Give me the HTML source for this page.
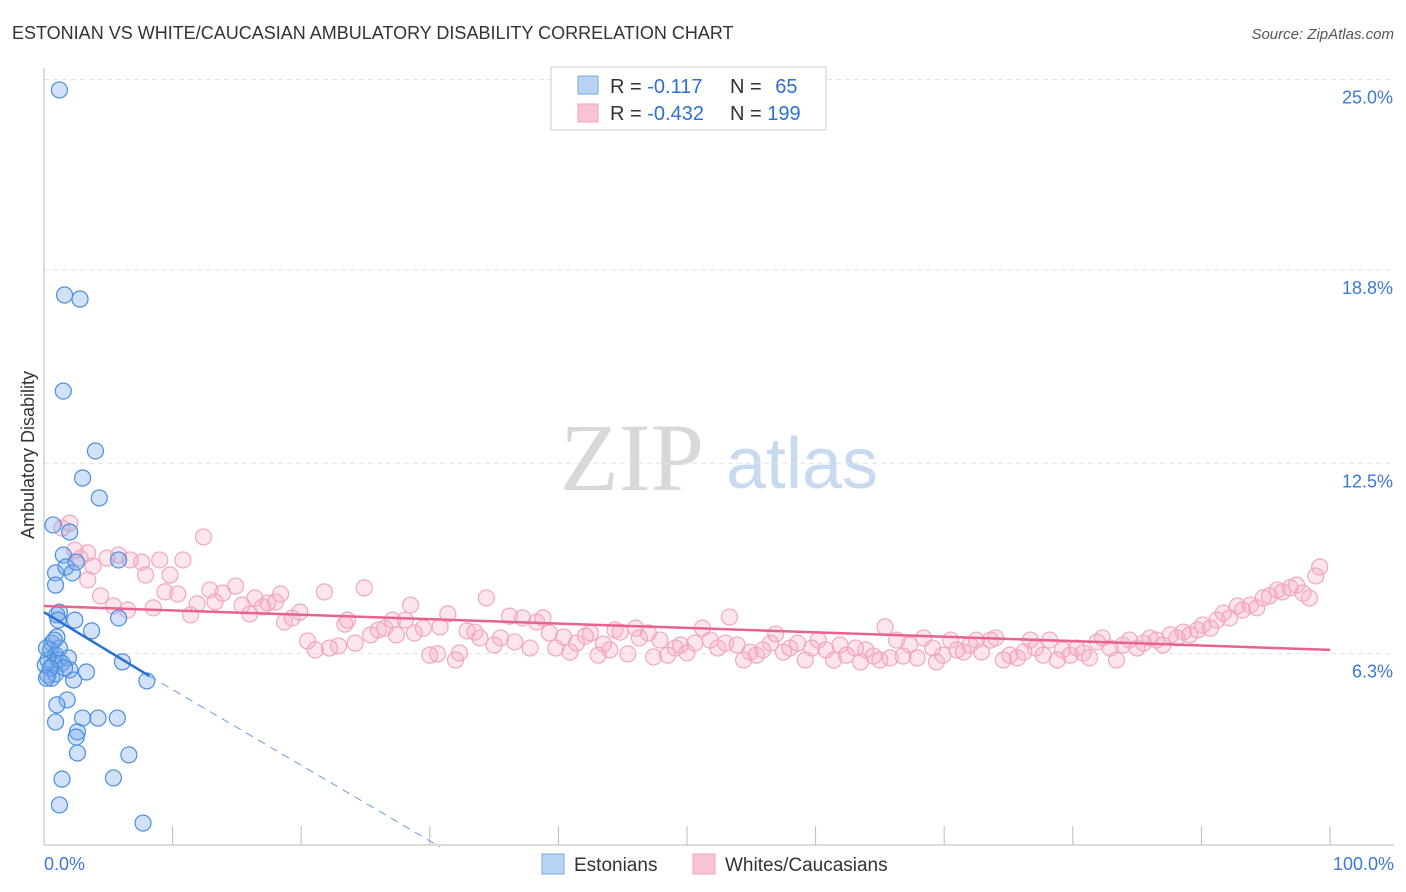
<!DOCTYPE html>
<html><head><meta charset="utf-8"><style>
body{margin:0;background:#fff;font-family:"Liberation Sans",sans-serif;}
svg{display:block}
</style></head><body>
<svg id="chart" width="1406" height="892" xmlns="http://www.w3.org/2000/svg">
<text x="12" y="39" font-size="18" fill="#333">ESTONIAN VS WHITE/CAUCASIAN AMBULATORY DISABILITY CORRELATION CHART</text>
<text x="1394" y="39" font-size="15" fill="#555" font-style="italic" text-anchor="end">Source: ZipAtlas.com</text>
<g>
<text x="632" y="490" font-size="96" fill="#d8d8d8" font-family="Liberation Serif,serif" text-anchor="middle">ZIP</text>
<text x="802" y="488" font-size="72" fill="#c8daf0" text-anchor="middle">atlas</text>
</g>
<g id="grid"></g>
<g id="axes"></g>
<g id="pink"></g>
<g id="blue"></g>
<g id="trends"></g>
<text transform="translate(34,455) rotate(-90)" font-size="18" fill="#333" text-anchor="middle">Ambulatory Disability</text>
<g>
<rect x="551" y="67" width="275" height="63" fill="#fff" stroke="#ccc"/>
<rect x="578" y="76" width="20" height="18" fill="#b8d4f4" stroke="#7aaae0"/>
<rect x="578" y="104" width="20" height="18" fill="#f8c4d4" stroke="#f0a0bc"/>
<text x="610" y="93" font-size="20" fill="#333">R = <tspan fill="#2f6fd0">-0.117</tspan></text>
<text x="730" y="93" font-size="20" fill="#333">N = <tspan fill="#2f6fd0" dx="8">65</tspan></text>
<text x="610" y="120" font-size="20" fill="#333">R = <tspan fill="#2f6fd0">-0.432</tspan></text>
<text x="730" y="120" font-size="20" fill="#333">N = <tspan fill="#2f6fd0">199</tspan></text>
</g>
<g>
<rect x="542" y="854" width="22" height="20" fill="#b8d4f4" stroke="#7aaae0"/>
<text x="574" y="871" font-size="19" fill="#333">Estonians</text>
<rect x="693" y="854" width="22" height="20" fill="#f8c4d4" stroke="#f0a0bc"/>
<text x="725" y="871" font-size="19" fill="#333">Whites/Caucasians</text>
</g>
</svg>
<script>
const yTicks=[6.3,12.5,18.8,25.0];
const yTickLabels=["6.3%","12.5%","18.8%","25.0%"];
const xTickLabels=["0.0%","100.0%"];
const blueX=[1.2,1.6,2.8,1.5,4.0,3.0,4.3,0.7,2.0,1.5,5.8,0.9,1.7,2.2,2.5,0.9,1.2,1.0,2.4,5.8,3.7,0.6,1.0,0.5,0.9,0.3,0.7,1.1,1.4,1.9,0.3,0.6,0.9,2.0,2.3,3.3,6.1,8.0,1.8,1.0,3.0,4.2,5.7,0.9,2.6,2.5,2.6,6.6,1.4,5.4,1.2,7.7,0.1,0.2,1.2,1.6,0.8,1.1,0.5,0.2];
const blueY=[24.66,17.98,17.85,14.85,12.90,12.02,11.37,10.49,10.26,9.51,9.35,8.93,9.12,8.93,9.28,8.53,7.65,7.56,7.39,7.46,7.04,6.64,6.84,6.42,6.25,6.09,5.93,6.09,5.99,6.16,5.60,5.50,5.64,5.77,5.44,5.70,6.03,5.41,4.79,4.63,4.20,4.20,4.20,4.07,3.75,3.58,3.06,3.00,2.21,2.25,1.37,0.78,5.93,6.48,6.48,5.83,6.74,7.39,5.83,5.50];
const pinkX=[1.4,2.0,2.4,2.8,3.4,3.8,4.9,5.8,6.7,7.6,7.9,9.0,9.8,10.8,12.4,3.4,4.4,5.4,6.5,8.5,9.4,10.4,11.4,11.9,12.9,13.3,13.9,14.9,15.4,16.0,16.4,17.0,17.4,18.0,18.4,18.7,19.3,19.9,20.5,21.1,21.8,22.2,22.9,23.4,23.6,24.2,24.9,25.4,26.0,26.5,27.1,27.4,28.1,28.5,28.8,29.5,30.0,30.6,30.8,31.4,32.0,32.3,32.9,33.5,33.9,34.4,35.0,35.5,36.2,36.6,37.2,37.8,38.3,38.8,39.3,39.8,40.4,40.9,41.4,42.1,42.5,43.1,43.5,44.0,44.4,44.8,45.4,46.0,46.3,47.0,47.4,47.9,48.5,49.1,49.5,50.0,50.6,51.2,51.8,52.4,53.0,53.3,53.9,54.4,54.9,55.4,55.9,56.5,56.9,57.5,58.0,58.6,59.2,59.7,60.2,60.8,61.4,61.9,62.4,63.1,63.5,63.9,64.5,65.0,65.4,65.8,66.3,66.8,67.3,67.9,68.4,69.1,69.4,69.9,70.5,71.0,71.5,72.0,72.5,72.9,73.6,74.0,74.6,75.1,75.7,76.2,76.7,77.1,77.7,78.2,78.8,79.2,79.8,80.3,80.8,81.3,81.9,82.3,82.9,83.4,83.9,84.4,85.0,85.5,86.0,86.5,87.0,87.6,88.1,88.6,89.1,89.7,90.1,90.7,91.2,91.7,92.2,92.8,93.2,93.8,94.3,94.8,95.3,95.9,96.3,96.9,97.4,97.9,98.4,98.9,99.2];
const pinkY=[10.39,10.55,9.67,9.41,9.58,9.15,9.41,9.51,9.35,9.28,8.86,9.35,8.86,9.35,10.10,8.70,8.18,7.85,7.72,7.79,8.31,8.24,7.56,7.92,8.37,7.98,8.27,8.50,7.88,7.59,8.11,7.82,7.95,7.98,8.24,7.33,7.46,7.65,6.71,6.42,8.31,6.48,6.55,7.26,7.39,6.64,8.44,6.91,7.07,7.13,7.39,6.91,7.39,7.88,6.97,7.13,6.25,6.29,7.17,7.59,6.09,6.32,7.04,7.00,6.81,8.11,6.58,6.81,7.52,6.68,7.46,6.48,7.33,7.46,6.97,6.48,6.84,6.35,6.64,6.87,6.97,6.25,6.61,6.42,7.07,7.00,6.29,7.13,6.81,6.97,6.19,6.74,6.25,6.48,6.58,6.32,6.64,7.13,6.74,6.48,6.64,7.49,6.58,6.09,6.35,6.25,6.42,6.64,6.94,6.35,6.48,6.64,6.09,6.48,6.74,6.42,6.09,6.58,6.25,6.48,6.03,6.42,6.22,6.09,7.17,6.16,6.74,6.22,6.58,6.16,6.81,6.48,6.03,6.25,6.74,6.42,6.35,6.58,6.74,6.35,6.74,6.81,6.09,6.25,6.16,6.35,6.74,6.48,6.25,6.74,6.09,6.42,6.25,6.48,6.32,6.16,6.68,6.81,6.48,6.09,6.58,6.74,6.48,6.64,6.81,6.74,6.58,6.91,6.81,7.00,6.91,7.07,7.23,7.13,7.39,7.62,7.46,7.85,7.72,7.88,7.79,8.11,8.18,8.37,8.31,8.44,8.53,8.27,8.11,8.83,9.12];
const blueTrend=[[0,7.65],[8.2,5.57]];
const blueTrendExt=[[8.2,5.57],[30.8,0]];
const pinkTrend=[[0,7.85],[100,6.42]];
const NS="http://www.w3.org/2000/svg";
const X=v=>44+v*12.86, Y=v=>847-v*30.7;
function mk(t,a,p){const e=document.createElementNS(NS,t);for(const k in a)e.setAttribute(k,a[k]);p.appendChild(e);return e;}
const grid=document.getElementById('grid'),axes=document.getElementById('axes');
yTicks.forEach((t,i)=>{
 const l=mk('line',{x1:44,x2:1394,y1:Y(t),y2:Y(t),stroke:'#e2e2e2','stroke-dasharray':'5,4'},grid);
 
 
 const tx=mk('text',{x:1393,y:Y(t)+24,'font-size':18,fill:'#3b78d8','text-anchor':'end'},axes);
 tx.textContent=yTickLabels[i];
 
 
});
const ya=mk('line',{x1:44,x2:44,y1:68,y2:845,stroke:'#bbb'},axes);


const xa=mk('line',{x1:44,x2:1394,y1:845,y2:845,stroke:'#bbb'},axes);


for(let i=0;i<=10;i++){const t=mk('line',{x1:X(i*10),x2:X(i*10),y1:826,y2:845,stroke:'#bbb'},axes);
 
 }
[[0,'start',44],[100,'end',1394]].forEach((d,i)=>{const t=mk('text',{x:d[2],y:870,'font-size':18,fill:'#3b78d8','text-anchor':d[1]},axes);t.textContent=xTickLabels[i];
 
 });
const pg=document.getElementById('pink');
pinkX.forEach((x,i)=>{const c=mk('circle',{cx:X(x),cy:Y(pinkY[i]),r:8,fill:'rgba(246,168,196,0.3)',stroke:'#f2a6c0','stroke-width':1.2},pg);
 
 });
const bg=document.getElementById('blue');
blueX.forEach((x,i)=>{const c=mk('circle',{cx:X(x),cy:Y(blueY[i]),r:8,fill:'rgba(120,170,235,0.35)',stroke:'#4a8ee0','stroke-width':1.2},bg);
 
 });
const tg=document.getElementById('trends');
const t1=mk('line',{x1:X(pinkTrend[0][0]),y1:Y(pinkTrend[0][1]),x2:X(pinkTrend[1][0]),y2:Y(pinkTrend[1][1]),stroke:'#e8628f','stroke-width':2.5},tg);


const t2=mk('line',{x1:X(blueTrend[0][0]),y1:Y(blueTrend[0][1]),x2:X(blueTrend[1][0]),y2:Y(blueTrend[1][1]),stroke:'#2a6fd6','stroke-width':2.5},tg);


const t3=mk('line',{x1:X(blueTrendExt[0][0]),y1:Y(blueTrendExt[0][1]),x2:X(blueTrendExt[1][0]),y2:Y(blueTrendExt[1][1]),stroke:'#6a9be0','stroke-width':1,'stroke-dasharray':'8,6'},tg);


</script>
</body></html>
